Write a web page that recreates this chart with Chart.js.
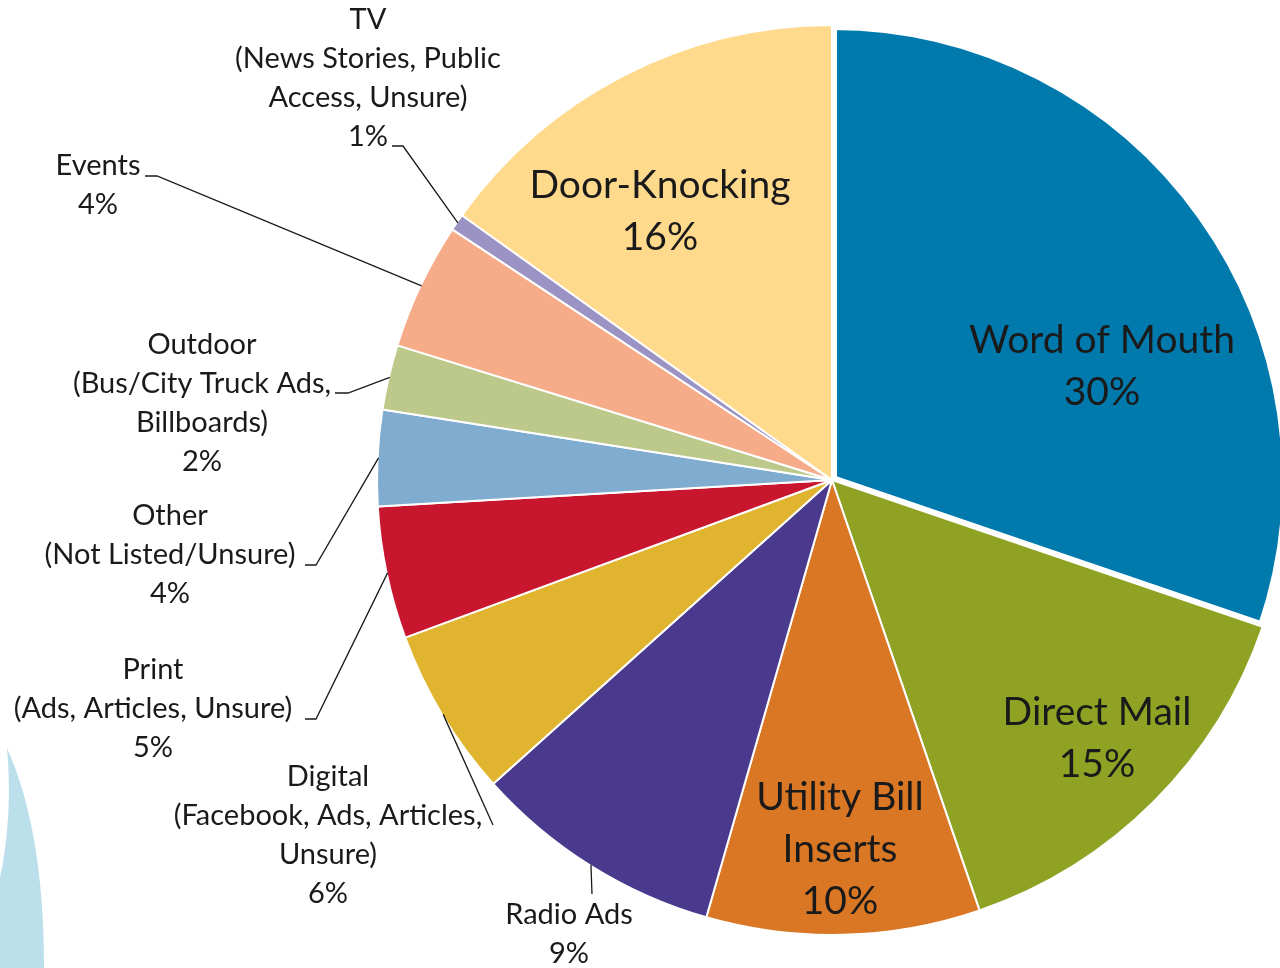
<!DOCTYPE html>
<html><head><meta charset="utf-8">
<script src="https://cdn.jsdelivr.net/npm/chart.js@4"></script>
<style>
html,body{margin:0;padding:0;background:#fff;overflow:hidden;width:1280px;height:968px}
#wrap{position:absolute;left:0;top:0;width:1310px;height:968px}
canvas{display:block}
</style></head>
<body><div id="wrap"><canvas id="c" width="1310" height="968"></canvas></div>
<script>
// ---- data ----
const categories = ["Word of Mouth","Direct Mail","Utility Bill Inserts","Radio Ads","Digital","Print","Other","Outdoor","Events","TV","Door-Knocking"];
const shares = [30.2,14.5,9.7,8.9,6.0,4.7,3.4,2.3,4.5,0.6,15.1];
const shownPercent = ["30%","15%","10%","9%","6%","5%","4%","2%","4%","1%","16%"];
const labelLines = [
  ["Word of Mouth"],
  ["Direct Mail"],
  ["Utility Bill","Inserts"],
  ["Radio Ads"],
  ["Digital","(Facebook, Ads, Articles,","Unsure)"],
  ["Print","(Ads, Articles, Unsure)"],
  ["Other","(Not Listed/Unsure)"],
  ["Outdoor","(Bus/City Truck Ads,","Billboards)"],
  ["Events"],
  ["TV","(News Stories, Public","Access, Unsure)"],
  ["Door-Knocking"]
];
const sliceColors = ["#007AAD","#8FA224","#D97725","#4A3A8D","#E1B42F","#C8162F","#80ACD0","#BDC98A","#F6AC88","#9B93C3","#FFD98C"];
const sliceBorders = [10,2,2,2,2,2,2,2,2,2,2];

// ---- label layout (text positions; leader start/elbow) ----
const labelLayout = [
  {x:1102,y:340,size:39,lh:52},
  {x:1097,y:712,size:39,lh:52},
  {x:840,y:797,size:39,lh:52},
  {x:569,y:915,size:29,lh:39,leader:[[592,894]]},
  {x:328,y:777,size:29,lh:39,leader:[[493,825]]},
  {x:153,y:670,size:29,lh:39,leader:[[305,719],[316,719]]},
  {x:170,y:516,size:29,lh:39,leader:[[305,565],[316,565]]},
  {x:202,y:345,size:29,lh:39,leader:[[335,393],[348,393]]},
  {x:98,y:166,size:29,lh:39,leader:[[145,176],[157,176]]},
  {x:368,y:20,size:29,lh:39,leader:[[392,146],[403,146]]},
  {x:660,y:185,size:39,lh:52}
];

const decoPlugin = {
  id:'deco',
  beforeDatasetsDraw(chart){
    const ctx = chart.ctx;
    ctx.save();
    ctx.fillStyle = '#BCDFEC';
    ctx.beginPath();
    ctx.moveTo(7,748);
    ctx.quadraticCurveTo(44,830,44,968);
    ctx.lineTo(0,968);
    ctx.lineTo(0,878);
    ctx.quadraticCurveTo(13,815,7,748);
    ctx.closePath();
    ctx.fill();
    ctx.restore();
  }
};

const labelPlugin = {
  id:'labels',
  afterDatasetsDraw(chart){
    const ctx = chart.ctx;
    const meta = chart.getDatasetMeta(0);
    ctx.save();
    ctx.textAlign = 'center';
    ctx.textBaseline = 'middle';
    ctx.fillStyle = '#1a1a1a';
    meta.data.forEach((arc,i)=>{
      const L = labelLayout[i];
      const lines = labelLines[i].concat([shownPercent[i]]);
      ctx.font = L.size + 'px Lato, "Open Sans", sans-serif';
      lines.forEach((t,k)=>ctx.fillText(t, L.x, L.y + k*L.lh));
      if (L.leader) {
        const p = arc.getProps(['x','y','startAngle','endAngle','outerRadius'], true);
        const mid = (p.startAngle + p.endAngle)/2;
        const R = p.outerRadius - 1;
        const ax = p.x + Math.cos(mid)*R, ay = p.y + Math.sin(mid)*R;
        ctx.strokeStyle = '#1a1a1a';
        ctx.lineWidth = 1.3;
        ctx.beginPath();
        ctx.moveTo(L.leader[0][0], L.leader[0][1]);
        for (let j=1;j<L.leader.length;j++) ctx.lineTo(L.leader[j][0], L.leader[j][1]);
        ctx.lineTo(ax, ay);
        ctx.stroke();
      }
    });
    ctx.restore();
  }
};

new Chart(document.getElementById('c'), {
  type:'pie',
  data:{
    labels:categories,
    datasets:[{
      data:shares,
      backgroundColor:sliceColors,
      borderColor:'#ffffff',
      borderWidth:sliceBorders,
      hoverBorderWidth:sliceBorders,
      offset:0,
      hoverOffset:0
    }]
  },
  options:{
    responsive:false,
    animation:false,
    events:[],
    layout:{padding:{left:372,right:18,top:20,bottom:28}},
    plugins:{legend:{display:false},tooltip:{enabled:false}}
  },
  plugins:[decoPlugin,labelPlugin]
});
</script>
</body></html>
